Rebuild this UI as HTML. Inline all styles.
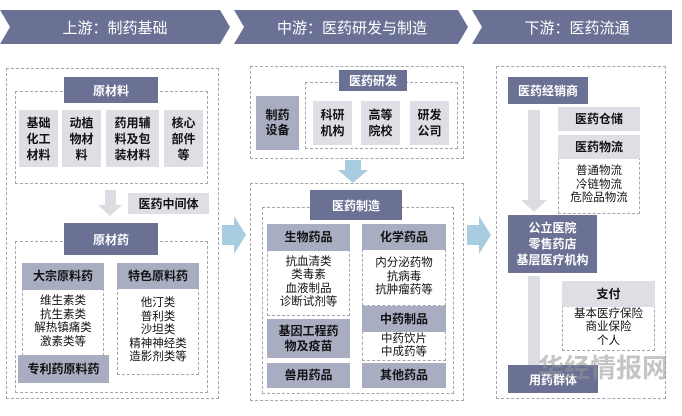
<!DOCTYPE html>
<html><head><meta charset="utf-8"><style>
body{margin:0;width:682px;height:416px;background:#fff;position:relative;overflow:hidden;font-family:"Liberation Sans","Noto Sans CJK SC",sans-serif}
div{position:absolute;box-sizing:border-box}
.d{border:1.5px dashed #a4a6ad}
.h{background:#6b7194;color:#fff;font-weight:bold;display:flex;align-items:center;justify-content:center;font-size:12px}
.m{background:#a9adc2;color:#111;font-weight:bold;display:flex;align-items:center;justify-content:center;font-size:12px;text-align:center;line-height:15px}
.c{background:#dedfe5;color:#111;font-weight:bold;display:flex;align-items:center;justify-content:center;font-size:12px;text-align:center;line-height:16px}
.l{border:1.2px dashed #a4a6ad;background:#fff;color:#111;display:flex;align-items:center;justify-content:center;font-size:11.5px;text-align:center;line-height:13.5px}
</style></head><body>
<svg style="position:absolute;left:0;top:0" width="682" height="60">
<polygon points="0,10 220,10 230,27 220,44 0,44 10,27" fill="#6b7194"/>
<polygon points="234,10 458,10 468,27 458,44 234,44 244,27" fill="#6b7194"/>
<polygon points="472,10 672,10 672,44 472,44 482,27" fill="#6b7194"/>
<text x="115" y="33" fill="#fff" font-size="15" text-anchor="middle" font-family="Liberation Sans,Noto Sans CJK SC,sans-serif">上游：制药基础</text>
<text x="352" y="33" fill="#fff" font-size="15" text-anchor="middle" font-family="Liberation Sans,Noto Sans CJK SC,sans-serif">中游：医药研发与制造</text>
<text x="577" y="33" fill="#fff" font-size="15" text-anchor="middle" font-family="Liberation Sans,Noto Sans CJK SC,sans-serif">下游：医药流通</text>
</svg>
<svg style="position:absolute;left:0;top:0" width="682" height="416">
<polygon points="222,225 234,225 234,216 246,235 234,254 234,245 222,245" fill="#a8cde0"/>
<polygon points="467,225 479,225 479,216 491,235 479,254 479,245 467,245" fill="#a8cde0"/>
<polygon points="345,160 361,160 361,170 368,170 353,183 338,170 345,170" fill="#a8cde0"/>
<polygon points="105,190 116,190 116,205 122,205 110,216 98,205 105,205" fill="#dcdde2"/>
<polygon points="528,110 540,110 540,200 547,200 534,212 521,200 528,200" fill="#dcdde2"/>
<polygon points="528,276 540,276 540,372 547,372 534,384 521,372 528,372" fill="#dcdde2"/>
</svg>
<div class="d" style="left:6px;top:68px;width:213px;height:331px"></div>
<div class="d" style="left:15px;top:91px;width:193px;height:93px"></div>
<div class="h" style="left:64px;top:77px;width:94px;height:26px">原材料</div>
<div class="c" style="left:19px;top:110px;width:39px;height:57px">基础<br>化工<br>材料</div>
<div class="c" style="left:62px;top:110px;width:39px;height:57px">动植<br>物材<br>料</div>
<div class="c" style="left:106px;top:110px;width:53px;height:57px">药用辅<br>料及包<br>装材料</div>
<div class="c" style="left:164px;top:110px;width:39px;height:57px">核心<br>部件<br>等</div>
<div class="c" style="left:128px;top:193px;width:81px;height:21px">医药中间体</div>
<div class="d" style="left:15px;top:241px;width:193px;height:152px"></div>
<div class="h" style="left:64px;top:223px;width:94px;height:32px">原材药</div>
<div class="l" style="left:22px;top:288px;width:82px;height:68px">维生素类<br>抗生素类<br>解热镇痛类<br>激素类等</div>
<div class="m" style="left:22px;top:263px;width:82px;height:27px">大宗原料药</div>
<div class="m" style="left:18px;top:355px;width:91px;height:28px">专利药原料药</div>
<div class="l" style="left:117px;top:287px;width:82px;height:88px">他汀类<br>普利类<br>沙坦类<br>精神神经类<br>造影剂类等</div>
<div class="m" style="left:117px;top:263px;width:82px;height:26px">特色原料药</div>
<div class="d" style="left:250px;top:66px;width:214px;height:93px"></div>
<div class="d" style="left:305px;top:82px;width:153px;height:67px"></div>
<div class="h" style="left:339px;top:70px;width:68px;height:21px">医药研发</div>
<div class="m" style="left:256px;top:96px;width:43px;height:54px">制药<br>设备</div>
<div class="c" style="left:313px;top:101px;width:39px;height:44px">科研<br>机构</div>
<div class="c" style="left:361px;top:101px;width:39px;height:44px">高等<br>院校</div>
<div class="c" style="left:410px;top:101px;width:39px;height:44px">研发<br>公司</div>
<div class="d" style="left:250px;top:183px;width:214px;height:218px"></div>
<div class="d" style="left:262px;top:207px;width:192px;height:187px"></div>
<div class="h" style="left:310px;top:190px;width:92px;height:30px">医药制造</div>
<div class="l" style="left:267px;top:249px;width:83px;height:67px">抗血清类<br>类毒素<br>血液制品<br>诊断试剂等</div>
<div class="m" style="left:267px;top:224px;width:83px;height:27px">生物药品</div>
<div class="m" style="left:267px;top:319px;width:83px;height:39px">基因工程药<br>物及疫苗</div>
<div class="m" style="left:267px;top:363px;width:83px;height:25px">兽用药品</div>
<div class="l" style="left:362px;top:249px;width:84px;height:57px">内分泌药物<br>抗病毒<br>抗肿瘤药等</div>
<div class="m" style="left:362px;top:224px;width:84px;height:26px">化学药品</div>
<div class="l" style="left:362px;top:331px;width:84px;height:30px">中药饮片<br>中成药等</div>
<div class="m" style="left:362px;top:306px;width:84px;height:26px">中药制品</div>
<div class="m" style="left:362px;top:363px;width:84px;height:25px">其他药品</div>
<div class="d" style="left:496px;top:66px;width:170px;height:333px"></div>
<div class="h" style="left:508px;top:77px;width:80px;height:27px">医药经销商</div>
<div class="c" style="left:558px;top:107px;width:82px;height:24px">医药仓储</div>
<div class="l" style="left:558px;top:157px;width:82px;height:57px">普通物流<br>冷链物流<br>危险品物流</div>
<div class="c" style="left:558px;top:135px;width:82px;height:24px">医药物流</div>
<div class="h" style="left:508px;top:215px;width:89px;height:58px;line-height:16px;text-align:center">公立医院<br>零售药店<br>基层医疗机构</div>
<div class="l" style="left:562px;top:305px;width:93px;height:46px">基本医疗保险<br>商业保险<br>个人</div>
<div class="c" style="left:562px;top:281px;width:93px;height:26px">支付</div>
<div class="h" style="left:508px;top:365px;width:90px;height:28px">用药群体</div>
<div style="left:538px;top:348px;font-size:26px;font-weight:bold;color:rgba(150,150,150,0.55);white-space:nowrap">华经情报网</div>
</body></html>
